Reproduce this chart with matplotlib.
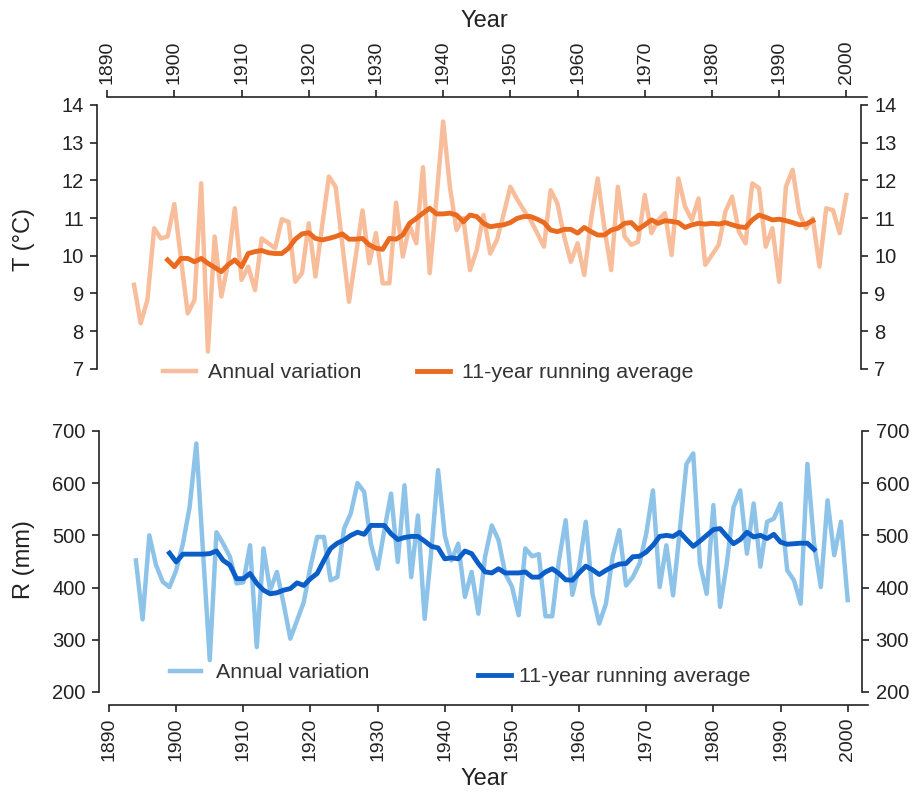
import numpy as np
import matplotlib
matplotlib.use("Agg")
import matplotlib.pyplot as plt

plt.rcParams["font.family"] = ["Liberation Sans", "DejaVu Sans"]

# annual series 1894-2000, running average 1899-1995
years = np.arange(1894, 2001)
years_avg = np.arange(1899, 1996)

temp_annual = [
    9.23, 8.21, 8.83, 10.73, 10.46, 10.51, 11.37, 9.9, 8.47, 8.83,
    11.92, 7.46, 10.51, 8.92, 9.8, 11.26, 9.36, 9.71, 9.09, 10.46,
    10.33, 10.2, 10.97, 10.9, 9.31, 9.54, 10.86, 9.45, 10.8, 12.1,
    11.83, 10.3, 8.78, 10.0, 11.2, 9.8, 10.6, 9.27, 9.27, 11.41,
    9.98, 10.8, 10.33, 12.35, 9.54, 11.5, 13.56, 11.83, 10.68, 11.0,
    9.62, 10.15, 11.08, 10.06, 10.42, 11.1, 11.83, 11.5, 11.21, 10.95,
    10.6, 10.24, 11.74, 11.39, 10.51, 9.84, 10.33, 9.49, 10.95, 12.05,
    10.73, 9.62, 11.83, 10.51, 10.29, 10.37, 11.61, 10.6, 10.95, 11.13,
    10.02, 12.05, 11.3, 10.95, 11.52, 9.76, 10.02, 10.29, 11.17, 11.57,
    10.64, 10.33, 11.92, 11.79, 10.24, 10.73, 9.31, 11.83, 12.28, 11.13,
    10.73, 10.99, 9.71, 11.26, 11.21, 10.6, 11.61,
]
temp_avg = [
    9.89, 9.71, 9.93, 9.93, 9.84, 9.93, 9.8, 9.69, 9.58, 9.76,
    9.89, 9.71, 10.06, 10.11, 10.14, 10.08, 10.06, 10.06, 10.2, 10.44,
    10.58, 10.61, 10.46, 10.42, 10.46, 10.51, 10.58, 10.44, 10.44, 10.46,
    10.29, 10.2, 10.17, 10.46, 10.44, 10.55, 10.86, 10.99, 11.13, 11.26,
    11.11, 11.11, 11.13, 11.08, 10.9, 11.08, 11.04, 10.86, 10.77, 10.8,
    10.82, 10.88, 10.99, 11.04, 11.04, 10.97, 10.88, 10.68, 10.64, 10.7,
    10.7, 10.6, 10.75, 10.64, 10.55, 10.55, 10.68, 10.73, 10.86, 10.88,
    10.7, 10.82, 10.95, 10.86, 10.93, 10.91, 10.88, 10.75, 10.82, 10.86,
    10.84, 10.86, 10.84, 10.88, 10.82, 10.77, 10.75, 10.95, 11.08, 11.02,
    10.95, 10.97, 10.93, 10.88, 10.82, 10.84, 10.93,
]
rain_annual = [
    452, 339, 500, 443, 411, 401, 433, 484, 554, 676,
    468, 261, 506, 484, 459, 408, 410, 481, 286, 475,
    395, 430, 369, 302, 337, 372, 440, 497, 497, 414,
    420, 513, 542, 600, 583, 484, 436, 510, 580, 449,
    596, 420, 538, 340, 471, 625, 500, 452, 484, 382,
    430, 350, 459, 519, 491, 427, 402, 347, 475, 460,
    464, 345, 345, 452, 529, 386, 440, 526, 388, 331,
    369, 459, 510, 404, 420, 446, 503, 586, 401, 481,
    385, 510, 637, 657, 446, 388, 558, 363, 446, 554,
    586, 465, 561, 440, 526, 532, 561, 433, 414, 369,
    637, 484, 401, 567, 462, 526, 376,
]
rain_avg = [
    466, 449, 464, 464, 464, 464, 465, 470, 452, 443,
    417, 417, 427, 408, 395, 388, 390, 395, 398, 409,
    404, 417, 427, 452, 475, 485, 491, 500, 506, 502,
    519, 519, 519, 503, 492, 496, 498, 498, 489, 479,
    476, 455, 457, 455, 470, 465, 446, 430, 428, 436,
    428, 428, 428, 430, 420, 420, 430, 436, 427, 415,
    414, 428, 441, 434, 425, 433, 440, 445, 446, 459,
    460, 468, 481, 498, 500, 498, 506, 492, 479, 489,
    500, 511, 513, 498, 484, 492, 506, 497, 500, 494,
    502, 487, 483, 484, 485, 485, 473,
]

ink = "#222222"
fig = plt.figure(figsize=(9.18, 7.95), dpi=100)
ax1 = fig.add_axes([0.1057, 0.5094, 0.8397, 0.3686])
ax2 = fig.add_axes([0.1078, 0.1132, 0.8390, 0.3585])

ax1.plot(years, temp_annual, color="#F8BE9C", lw=3.2, label="Annual variation")
ax1.plot(years_avg, temp_avg, color="#EA6A1F", lw=3.5, label="11-year running average")
ax2.plot(years, rain_annual, color="#8DC3E9", lw=3.2, label="Annual variation")
ax2.plot(years_avg, rain_avg, color="#0B5DC7", lw=3.5, label="11-year running average")

xticks = np.arange(1890, 2001, 10)
for ax in (ax1, ax2):
    ax.set_xlim(1888.5, 2003.2)
    ax.set_xticks(xticks)
    ax.set_xticklabels([str(t) for t in xticks], rotation=90)
    ax.spines["right"].set_position(("data", 2002.2))
    for s in ax.spines.values():
        s.set_linewidth(1.2)
        s.set_color(ink)
    ax.tick_params(axis="both", direction="out", length=5, width=1.2, colors=ink,
                   labelsize=14.5)
    ax.tick_params(axis="x", labelsize=14, pad=4)
    ax.tick_params(axis="y", left=True, right=True, labelleft=True, labelright=True, pad=4.5)

# top panel: temperature, x axis on top
ax1.set_ylim(6.44, 14.21)
ax1.set_yticks(range(7, 15))
ax1.spines["bottom"].set_visible(False)
ax1.spines["left"].set_bounds(7, 14)
ax1.spines["right"].set_bounds(7, 14)
ax1.spines["top"].set_bounds(1890, 2003)
ax1.xaxis.set_ticks_position("top")
ax1.xaxis.set_label_position("top")
ax1.set_xlabel("Year", fontsize=17, color=ink)
ax1.xaxis.set_label_coords(0.503, 1.239)
ax1.set_ylabel("T (°C)", fontsize=17, color=ink)
ax1.yaxis.set_label_coords(-0.0804, 0.512)

# bottom panel: precipitation
ax2.set_ylim(175, 721)
ax2.set_yticks(range(200, 701, 100))
ax2.spines["top"].set_visible(False)
ax2.spines["left"].set_bounds(200, 700)
ax2.spines["right"].set_bounds(200, 700)
ax2.spines["bottom"].set_bounds(1890, 2003)
ax2.set_xlabel("Year", fontsize=17, color=ink)
ax2.xaxis.set_label_coords(0.501, -0.221)
ax2.set_ylabel("R (mm)", fontsize=17, color=ink)
ax2.yaxis.set_label_coords(-0.083, 0.509)

W, H = 918, 795
leg_kw = dict(frameon=False, fontsize=15.4, borderpad=0, borderaxespad=0,
              loc="center left", bbox_transform=fig.transFigure, labelcolor="#333333")
h1, l1 = ax1.get_legend_handles_labels()
ax1.legend(h1, l1, ncol=2, handlelength=1.55, handletextpad=0.55, columnspacing=2.6,
           bbox_to_anchor=(163 / W, 1 - 373 / H), **leg_kw)

h2, l2 = ax2.get_legend_handles_labels()
lg = ax2.legend([h2[0]], [l2[0]], handlelength=1.45, handletextpad=0.7,
                bbox_to_anchor=(170 / W, 1 - 673 / H), **leg_kw)
ax2.add_artist(lg)
ax2.legend([h2[1]], [l2[1]], handlelength=1.55, handletextpad=0.38,
           bbox_to_anchor=(478 / W, 1 - 677 / H), **leg_kw)

fig.savefig("out.png", dpi=100)
